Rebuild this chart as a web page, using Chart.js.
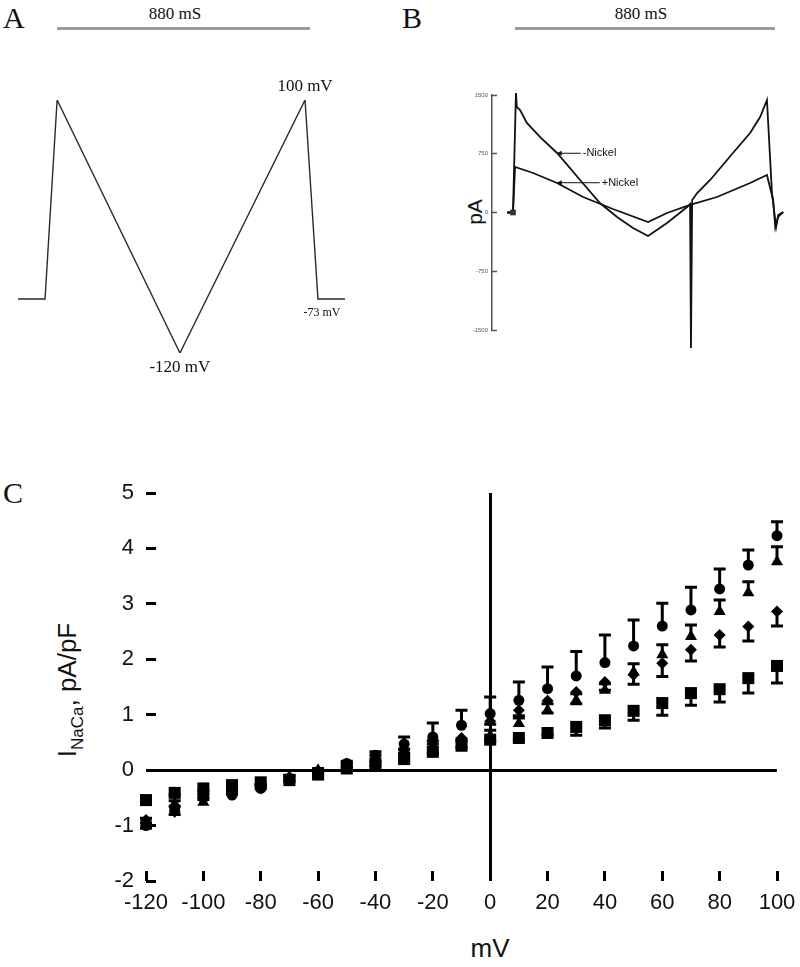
<!DOCTYPE html>
<html>
<head>
<meta charset="utf-8">
<script src="https://cdn.jsdelivr.net/npm/chart.js@4.4.1/dist/chart.umd.min.js"></script>
<style>
  body { margin: 0; background: #fff; }
  #page { position: relative; width: 800px; height: 967px; overflow: hidden; font-family: "Liberation Serif", serif; color: #111; }
  canvas { position: absolute; }
  .lbl { position: absolute; white-space: nowrap; line-height: 1; }
  .panel { font-size: 30px; }
  .dur { font-size: 17px; transform: translateX(-50%); }
  .bar { position: absolute; height: 3px; background: #9a9a9a; }
  .sans { font-family: "Liberation Sans", Arial, sans-serif; }
</style>
</head>
<body>
<div id="page">
  <div class="lbl panel" style="left:3px; top:3px;">A</div>
  <div class="lbl panel" style="left:402px; top:3px;">B</div>
  <div class="lbl panel" style="left:3px; top:478px;">C</div>
  <div class="lbl dur" style="left:175px; top:5px;">880 mS</div>
  <div class="lbl dur" style="left:641px; top:5px;">880 mS</div>
  <div class="bar" style="left:57px; top:27px; width:253px;"></div>
  <div class="bar" style="left:515px; top:27px; width:260px;"></div>
  <div class="lbl sans" style="left:474px; top:212px; font-size:21px; transform:translate(-50%,-50%) rotate(-90deg);">pA</div>
  <div class="lbl sans" style="left:70px; top:690px; font-size:26px; transform:translate(-50%,-50%) rotate(-90deg);">I<sub style="font-size:17px;">NaCa</sub>, pA/pF</div>
  <div class="lbl sans" style="left:490px; top:948px; font-size:26px; transform:translate(-50%,-50%);">mV</div>

  <canvas id="rampChart" width="400" height="340" style="left:0; top:40px;"></canvas>
  <canvas id="traceChart" width="400" height="340" style="left:400px; top:40px;"></canvas>
  <canvas id="ivChart" width="800" height="487" style="left:0; top:480px;"></canvas>
</div>

<script>
// --- panel A: voltage ramp protocol (ms, mV)
const rampTime = [0, 94, 136, 563, 998, 1043, 1137];
const rampVoltage = [-73, -73, 100, -120, 100, -73, -73];

// --- panel B: current traces (ms, pA)
const minusNiTime = [-30, -10, 0, 3, 14, 37, 81, 139, 217, 284, 342, 396, 447, 511, 579, 589, 592, 596, 613, 657, 734, 792, 826, 849, 866, 880, 887, 904];
const minusNiCurrent = [0, 0, 1526, 1347, 1309, 1143, 964, 760, 415, 121, -57, -198, -300, -134, 70, 109, -1730, 160, 249, 415, 760, 1015, 1219, 1436, 249, -185, -32, 6];
const plusNiTime = [-30, -10, -3, 58, 139, 227, 328, 447, 511, 589, 680, 792, 849, 870, 877, 887, 904];
const plusNiCurrent = [0, 0, 581, 504, 377, 198, 45, -121, -6, 96, 198, 377, 479, 160, -185, -57, 6];
const traceTicks = [-1500, -750, 0, 750, 1500];

// --- panel C: I-V relation (mV, pA/pF), mean and SEM
const voltages = [-120, -110, -100, -90, -80, -70, -60, -50, -40, -30, -20, -10, 0, 10, 20, 30, 40, 50, 60, 70, 80, 90, 100];
const circleMean = [-1.00, -0.70, -0.50, -0.45, -0.33, -0.15, -0.03, 0.12, 0.27, 0.47, 0.60, 0.81, 1.02, 1.26, 1.47, 1.70, 1.94, 2.24, 2.60, 2.89, 3.27, 3.70, 4.23];
const circleSem = [0.05, 0.05, 0.05, 0.05, 0.05, 0.03, 0.03, 0.04, 0.06, 0.13, 0.25, 0.27, 0.30, 0.33, 0.39, 0.44, 0.50, 0.47, 0.41, 0.41, 0.36, 0.27, 0.25];
const triangleMean = [-0.95, -0.60, -0.58, -0.40, -0.30, -0.12, 0.00, 0.10, 0.22, 0.30, 0.45, 0.48, 0.62, 0.84, 1.08, 1.26, 1.44, 1.77, 2.08, 2.41, 2.86, 3.20, 3.76];
const triangleSem = [0.08, 0.05, 0.05, 0.05, 0.05, 0.03, 0.03, 0.03, 0.05, 0.08, 0.08, 0.08, 0.10, 0.10, 0.12, 0.12, 0.12, 0.15, 0.18, 0.21, 0.21, 0.20, 0.27];
const diamondMean = [-0.90, -0.75, -0.45, -0.38, -0.28, -0.15, -0.03, 0.08, 0.20, 0.36, 0.52, 0.58, 0.88, 1.08, 1.25, 1.41, 1.59, 1.72, 1.93, 2.17, 2.44, 2.59, 2.86];
const diamondSem = [0.15, 0.05, 0.05, 0.05, 0.05, 0.03, 0.03, 0.03, 0.05, 0.05, 0.05, 0.05, 0.05, 0.10, 0.22, 0.21, 0.15, 0.17, 0.24, 0.20, 0.22, 0.26, 0.26];
const squareMean = [-0.54, -0.41, -0.33, -0.27, -0.22, -0.18, -0.08, 0.03, 0.12, 0.20, 0.33, 0.44, 0.55, 0.58, 0.67, 0.78, 0.90, 1.07, 1.21, 1.39, 1.46, 1.66, 1.88];
const squareSem = [0.05, 0.04, 0.04, 0.04, 0.04, 0.03, 0.03, 0.03, 0.03, 0.03, 0.03, 0.03, 0.03, 0.03, 0.03, 0.15, 0.14, 0.17, 0.22, 0.22, 0.23, 0.27, 0.31];
const ivXTicks = [-120, -100, -80, -60, -40, -20, 0, 20, 40, 60, 80, 100];
const ivYTicks = [-2, -1, 0, 1, 2, 3, 4, 5];

const pairs = (xs, ys) => xs.map((x, i) => ({ x: x, y: ys[i] }));
const noPad = s => { s.paddingLeft = 0; s.paddingRight = 0; s.paddingTop = 0; s.paddingBottom = 0; };

// text next to a data point, drawn through the chart scales
const pointNotes = {
  id: "pointNotes",
  afterDatasetsDraw(chart, args, opts) {
    const ctx = chart.ctx;
    const xs = chart.scales.x, ys = chart.scales.y;
    (opts.notes || []).forEach(n => {
      const px = xs.getPixelForValue(n.x), py = ys.getPixelForValue(n.y);
      ctx.save();
      ctx.fillStyle = "#111";
      ctx.strokeStyle = "#111";
      ctx.font = n.font;
      ctx.textBaseline = "middle";
      if (n.arrow) {
        ctx.lineWidth = 1;
        ctx.beginPath();
        ctx.moveTo(px + 1, py);
        ctx.lineTo(px + n.arrow, py);
        ctx.stroke();
        ctx.beginPath();
        ctx.moveTo(px, py);
        ctx.lineTo(px + 5, py - 2.5);
        ctx.lineTo(px + 5, py + 2.5);
        ctx.closePath();
        ctx.fill();
        ctx.textAlign = "left";
        ctx.fillText(n.text, px + n.arrow + 2, py);
      } else {
        ctx.textAlign = "center";
        ctx.fillText(n.text, px + (n.dx || 0), py + n.dy);
      }
      ctx.restore();
    });
  }
};

// one-sided SEM bars with caps
const errorBars = {
  id: "errorBars",
  afterDatasetsDraw(chart) {
    const ctx = chart.ctx;
    const ys = chart.scales.y;
    chart.data.datasets.forEach((ds, i) => {
      const meta = chart.getDatasetMeta(i);
      ctx.save();
      ctx.strokeStyle = "#000";
      ctx.lineWidth = 3;
      meta.data.forEach((pt, j) => {
        const end = ys.getPixelForValue(ds.data[j].y + ds.sem[j] * ds.semDir);
        ctx.beginPath();
        ctx.moveTo(pt.x, pt.y);
        ctx.lineTo(pt.x, end);
        ctx.moveTo(pt.x - 6, end);
        ctx.lineTo(pt.x + 6, end);
        ctx.stroke();
      });
      ctx.restore();
    });
  }
};

new Chart(document.getElementById("rampChart"), {
  type: "line",
  data: {
    datasets: [{
      data: pairs(rampTime, rampVoltage),
      borderColor: "#2a2a2a",
      borderWidth: 1.4,
      pointRadius: 0,
      tension: 0
    }]
  },
  options: {
    responsive: false,
    animation: false,
    layout: { padding: { left: 18, right: 55, top: 60, bottom: 27 } },
    plugins: {
      legend: { display: false },
      tooltip: { enabled: false },
      pointNotes: {
        notes: [
          { text: "100 mV", x: 998, y: 100, dy: -13, font: "17px 'Liberation Serif'" },
          { text: "-120 mV", x: 563, y: -120, dy: 15, font: "17px 'Liberation Serif'" },
          { text: "-73 mV", x: 1043, y: -73, dx: 4, dy: 14, font: "12px 'Liberation Serif'" }
        ]
      }
    },
    scales: {
      x: { type: "linear", min: 0, max: 1137, display: false },
      y: { type: "linear", min: -120, max: 100, display: false }
    }
  },
  plugins: [pointNotes]
});

new Chart(document.getElementById("traceChart"), {
  type: "line",
  data: {
    datasets: [
      {
        label: "-Nickel", data: pairs(minusNiTime, minusNiCurrent), borderColor: "#111", borderWidth: 1.8, tension: 0, clip: false,
        pointStyle: "rect", pointRadius: c => (c.dataIndex === 1 ? 4 : 0), backgroundColor: "#333", pointBorderWidth: 0
      },
      { label: "+Nickel", data: pairs(plusNiTime, plusNiCurrent), borderColor: "#111", borderWidth: 1.8, pointRadius: 0, tension: 0, clip: false }
    ]
  },
  options: {
    responsive: false,
    animation: false,
    layout: { padding: { left: 0, right: 10, top: 55, bottom: 50 } },
    plugins: {
      legend: { display: false },
      tooltip: { enabled: false },
      pointNotes: {
        notes: [
          { text: "-Nickel", x: 138, y: 756, arrow: 24, font: "11px 'Liberation Sans'" },
          { text: "+Nickel", x: 138, y: 380, arrow: 43, font: "11px 'Liberation Sans'" }
        ]
      }
    },
    scales: {
      x: { type: "linear", min: -81, max: 927, display: false },
      y: {
        type: "linear",
        min: -1500,
        max: 1500,
        afterBuildTicks: s => { s.ticks = traceTicks.map(v => ({ value: v })); },
        afterFit: s => { s.width = 92; noPad(s); },
        border: { display: true, color: "#555", width: 1.5 },
        grid: { drawOnChartArea: false, tickLength: -5, tickColor: "#555", tickWidth: 1.5 },
        ticks: { color: "#556", padding: 9, font: { family: "Liberation Sans", size: 6 }, callback: v => String(v) }
      }
    }
  },
  plugins: [pointNotes]
});

const zeroLine = c => (c.tick && c.tick.value === 0) ? "#000" : "rgba(0,0,0,0)";

new Chart(document.getElementById("ivChart"), {
  type: "scatter",
  data: {
    datasets: [
      { label: "circle", data: pairs(voltages, circleMean), sem: circleSem, semDir: 1, pointStyle: "circle", pointRadius: 5.5 },
      { label: "triangle", data: pairs(voltages, triangleMean), sem: triangleSem, semDir: 1, pointStyle: "triangle", pointRadius: 7 },
      { label: "diamond", data: pairs(voltages, diamondMean), sem: diamondSem, semDir: -1, pointStyle: "rectRot", pointRadius: 6 },
      { label: "square", data: pairs(voltages, squareMean), sem: squareSem, semDir: -1, pointStyle: "rect", pointRadius: 8.5 }
    ].map(ds => Object.assign(ds, { backgroundColor: "#000", borderColor: "#000", borderWidth: 0, clip: false }))
  },
  options: {
    responsive: false,
    animation: false,
    layout: { padding: { left: 0, right: 23, top: 13, bottom: 0 } },
    plugins: { legend: { display: false }, tooltip: { enabled: false } },
    scales: {
      x: {
        type: "linear",
        min: -120,
        max: 100,
        afterBuildTicks: s => { s.ticks = ivXTicks.map(v => ({ value: v })); },
        afterFit: s => { s.height = 86; noPad(s); },
        border: { display: false },
        grid: { color: zeroLine, lineWidth: 3, tickLength: -10, tickColor: "#000", tickWidth: 3 },
        ticks: { color: "#111", padding: 19, maxRotation: 0, autoSkip: false, font: { family: "Liberation Sans", size: 22 } }
      },
      y: {
        type: "linear",
        min: -2,
        max: 5,
        afterBuildTicks: s => { s.ticks = ivYTicks.map(v => ({ value: v })); },
        afterFit: s => { s.width = 146; noPad(s); },
        border: { display: false },
        grid: { color: zeroLine, lineWidth: 3, tickLength: -10, tickColor: "#000", tickWidth: 3 },
        ticks: { color: "#111", padding: 22, font: { family: "Liberation Sans", size: 22 } }
      }
    }
  },
  plugins: [errorBars]
});
</script>
</body>
</html>
